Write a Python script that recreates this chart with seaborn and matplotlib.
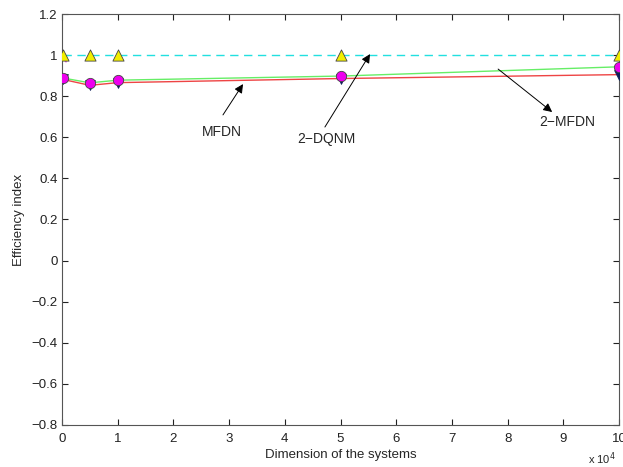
import numpy as np
import pandas as pd
import seaborn as sns
import matplotlib.pyplot as plt
from matplotlib.ticker import FixedLocator, FuncFormatter

# dimension of the systems and efficiency index values
dims = [100, 5000, 10000, 50000, 100000]
dqnm_eff = [1.0, 1.0, 1.0, 1.0, 1.0]          # 2-DQNM (yellow triangles, cyan dashed)
mfdn2_eff = [0.889, 0.865, 0.878, 0.898, 0.943]  # 2-MFDN (green line, magenta circles)
mfdn_eff = [0.882, 0.853, 0.866, 0.886, 0.905]   # MFDN (red line, navy triangles)
extra_x = [100, 800]
extra_eff = [0.99, 0.965]

ytick_vals = [-0.8, -0.6, -0.4, -0.2, 0, 0.2, 0.4, 0.6, 0.8, 1.0, 1.2]
xtick_vals = [0, 10000, 20000, 30000, 40000, 50000, 60000, 70000, 80000, 90000, 100000]

sns.set_style("ticks")
plt.rcParams['font.family'] = ['Liberation Sans', 'DejaVu Sans']

fig = plt.figure(figsize=(6.23, 4.67), dpi=100)
ax = fig.add_axes([0.0995, 0.090, 0.8941, 0.880])

sns.lineplot(x=dims, y=dqnm_eff, ax=ax, color="#22e0e0", linestyle=(0, (6, 4)), linewidth=1.0)
sns.lineplot(x=dims, y=mfdn2_eff, ax=ax, color="#66ee66", linewidth=1.0)
sns.lineplot(x=dims, y=mfdn_eff, ax=ax, color="#ee4444", linewidth=1.0)
sns.lineplot(x=extra_x, y=extra_eff, ax=ax, color="#dd44dd", linestyle=(0, (2, 1)), linewidth=1.0)

sns.scatterplot(x=dims, y=mfdn_eff, ax=ax, marker="v", s=50, color="#10205a", edgecolor="#10205a", zorder=3)
sns.scatterplot(x=dims, y=mfdn2_eff, ax=ax, marker="o", s=55, color="#ee00ee", edgecolor="#444444", linewidth=0.6, zorder=4)
sns.scatterplot(x=dims, y=dqnm_eff, ax=ax, marker="^", s=65, color="#f2ee00", edgecolor="#444444", linewidth=0.6, zorder=4)

ax.set_xlim(0, 100000)
ax.set_ylim(-0.8, 1.2)
ax.xaxis.set_major_locator(FixedLocator(xtick_vals))
ax.yaxis.set_major_locator(FixedLocator(ytick_vals))
ax.xaxis.set_major_formatter(FuncFormatter(lambda v, p: "%g" % (v / 1e4)))
ax.yaxis.set_major_formatter(FuncFormatter(lambda v, p: ("%g" % round(v, 2)).replace("-", "\u2212")))
ax.tick_params(direction="in", length=4, width=0.8, top=True, right=True, labelsize=9.5, colors="#222222", pad=3)
ax.tick_params(axis="x", pad=6)
for s in ax.spines.values():
    s.set_linewidth(0.8)
    s.set_color("#555555")

ax.set_xlabel("Dimension of the systems", fontsize=9.5, labelpad=2.5)
ax.set_ylabel("Efficiency index", fontsize=9.5, labelpad=5)
ax.text(0.944, -0.082, "x 10$^{4}$", transform=ax.transAxes, fontsize=8, ha="left", va="center")

arrow = dict(arrowstyle="-|>", color="black", lw=0.7, mutation_scale=13, shrinkA=0, shrinkB=0)
ax.annotate("", xy=(32500, 0.859), xytext=(28900, 0.709), arrowprops=arrow)
ax.text(28700, 0.625, "MFDN", fontsize=10, ha="center", va="center")
ax.annotate("", xy=(55300, 1.005), xytext=(47200, 0.650), arrowprops=arrow)
ax.text(47400, 0.592, "2\u2212DQNM", fontsize=10, ha="center", va="center")
ax.annotate("", xy=(88000, 0.723), xytext=(78300, 0.932), arrowprops=arrow)
ax.text(90700, 0.674, "2\u2212MFDN", fontsize=10, ha="center", va="center")

fig.savefig("out.png", dpi=100)
